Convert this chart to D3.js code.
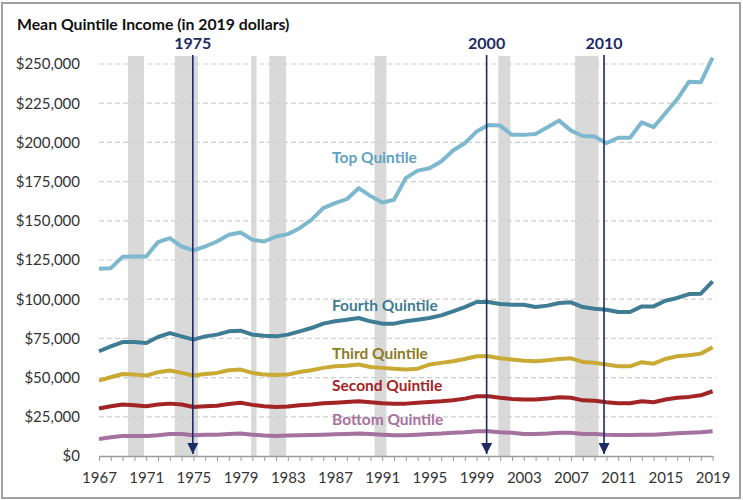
<!DOCTYPE html>
<html>
<head>
<meta charset="utf-8">
<script src="https://cdn.jsdelivr.net/npm/d3@7"></script>
<style>
  body { margin: 0; background: #fff; }
  svg { font-family: Lato, "Open Sans", sans-serif; }
</style>
</head>
<body>
<svg id="chart" width="743" height="500"></svg>
<script>
const W = 743, H = 500;

var years = d3.range(1967, 2020);

var topQ = [119400, 119800, 127000, 127300, 127200, 136400, 139000, 133600, 131100, 133600,
  136800, 141100, 142500, 137900, 136800, 140000, 141500, 145300, 150600, 158100,
  161300, 163800, 170800, 165900, 161600, 163400, 177200, 182000, 183500, 187800,
  194800, 199500, 206900, 211100, 210700, 204800, 204800, 205400, 209700, 213900,
  207500, 204100, 203700, 199500, 203000, 203000, 212800, 209700, 218600, 227500,
  238700, 238300, 254000];
var fourthQ = [66800, 69900, 72700, 72700, 72100, 75900, 78400, 76300, 74200, 76300,
  77400, 79500, 79900, 77400, 76700, 76300, 77400, 79500, 81600, 84400,
  85900, 86900, 88000, 85900, 84400, 84400, 85900, 86900, 88000, 89700,
  92200, 95000, 98200, 98200, 96900, 96500, 96500, 95000, 95900, 97600,
  98000, 95000, 93900, 93300, 91800, 91800, 95400, 95400, 99000, 100800,
  103300, 103500, 111300];
var thirdQ = [48100, 50200, 52300, 51900, 51300, 53400, 54500, 53000, 51300, 52300,
  53000, 54700, 55100, 53000, 51900, 51700, 51900, 53600, 54700, 56200,
  57200, 57600, 58300, 56800, 56200, 55700, 55100, 55700, 58300, 59400,
  60400, 61900, 63600, 63600, 62300, 61500, 60800, 60400, 61000, 61900,
  62300, 60000, 59400, 58300, 57200, 57200, 59800, 58900, 61900, 63600,
  64200, 65300, 69300];
var secondQ = [30300, 31700, 32800, 32400, 31700, 32800, 33400, 32800, 31300, 31700,
  32100, 33100, 33900, 32600, 31700, 31300, 31500, 32400, 32800, 33600,
  34000, 34500, 34900, 34300, 33600, 33400, 33400, 33900, 34500, 34900,
  35500, 36600, 38100, 38100, 37100, 36400, 36000, 36000, 36600, 37500,
  37100, 35500, 35300, 34300, 33600, 33600, 34900, 34300, 36000, 37100,
  37700, 38700, 41300];
var bottomQ = [10900, 12000, 12800, 12800, 12700, 13200, 14100, 14100, 13200, 13600,
  13600, 14100, 14300, 13600, 13000, 12800, 13000, 13200, 13400, 13600,
  13900, 14100, 14300, 14100, 13600, 13200, 13200, 13600, 14100, 14300,
  14800, 15200, 15800, 15800, 15200, 14800, 14100, 14100, 14300, 14800,
  14800, 14100, 14100, 13600, 13400, 13400, 13600, 13600, 14100, 14500,
  14800, 15200, 15800];

var seriesNames = ["Top Quintile", "Fourth Quintile", "Third Quintile", "Second Quintile", "Bottom Quintile"];
var seriesValues = [topQ, fourthQ, thirdQ, secondQ, bottomQ];
var lineColors = ["#7db8cf", "#3e7d94", "#c9aa35", "#a32424", "#a5719f"];
var labelColors = ["#5fa2c2", "#3e7d94", "#8c7b22", "#a32424", "#a8709f"];
// label anchor (year, value) for each series name, baseline left
var labelPos = [[1986.75, 187100], [1986.75, 92700], [1986.75, 61700], [1986.75, 41600], [1986.75, 19800]];

// recession bands, as fractional years
var recessions = [[1969.46, 1970.82], [1973.42, 1975.38], [1979.9, 1980.35], [1981.43, 1982.85],
  [1990.35, 1991.36], [2000.84, 2001.86], [2007.35, 2009.33]];

var markers = [{label: "1975", year: 1974.95}, {label: "2000", year: 1999.85}, {label: "2010", year: 2009.8}];

var yTicks = d3.range(0, 250001, 25000);

const x = d3.scaleLinear().domain([1967, 2019]).range([99, 712.6]);
const y = d3.scaleLinear().domain([0, 250000]).range([456, 64]);

var svg = d3.select("#chart");

svg.append("rect")
  .attr("x", 2).attr("y", 3).attr("width", 738).attr("height", 495)
  .attr("fill", "#fff").attr("stroke", "#a0a0a0").attr("stroke-width", 2);

svg.append("text")
  .attr("x", 17).attr("y", 30)
  .attr("font-size", 15.8).attr("font-weight", "bold").attr("fill", "#111")
  .text("Mean Quintile Income (in 2019 dollars)");

// recession shading
svg.selectAll("rect.rec")
  .data(recessions)
  .enter().append("rect")
  .attr("class", "rec")
  .attr("x", d => x(d[0]))
  .attr("width", d => x(d[1]) - x(d[0]))
  .attr("y", 56)
  .attr("height", y(0) - 56)
  .attr("fill", "#d9d9d9");

// gridlines
svg.selectAll("line.grid")
  .data(yTicks.filter(d => d > 0))
  .enter().append("line")
  .attr("class", "grid")
  .attr("x1", 99).attr("x2", 716)
  .attr("y1", d => y(d)).attr("y2", d => y(d))
  .attr("stroke", "#cfcfcf").attr("stroke-width", 1.2)
  .attr("stroke-dasharray", "5,3");

// y axis
var yAxis = svg.append("g")
  .attr("transform", "translate(83,0)")
  .call(d3.axisLeft(y).tickValues(yTicks).tickSize(0).tickFormat(d3.format("$,")));
yAxis.select(".domain").remove();
yAxis.selectAll("text").attr("font-size", 15).attr("fill", "#333").attr("font-family", "Lato");

// x axis
var xAxis = svg.append("g")
  .attr("transform", `translate(0,${y(0)})`)
  .call(d3.axisBottom(x).tickValues(years).tickSize(5).tickSizeOuter(0)
    .tickFormat(d => (d - 1967) % 4 === 0 ? d : ""));
xAxis.select(".domain").attr("stroke", "#9a9a9a").attr("stroke-width", 1.3);
xAxis.selectAll(".tick line").attr("stroke", "#9a9a9a");
xAxis.selectAll("text").attr("font-size", 15).attr("fill", "#333").attr("font-family", "Lato").attr("dy", "1.25em");

// lines
var line = d3.line()
  .x((d, i) => x(years[i]))
  .y(d => y(d));

svg.selectAll("path.series")
  .data(seriesValues)
  .enter().append("path")
  .attr("class", "series")
  .attr("d", line)
  .attr("fill", "none")
  .attr("stroke", (d, i) => lineColors[i])
  .attr("stroke-width", 4)
  .attr("stroke-linejoin", "round");

svg.selectAll("text.slabel")
  .data(seriesNames)
  .enter().append("text")
  .attr("class", "slabel")
  .attr("x", (d, i) => x(labelPos[i][0]))
  .attr("y", (d, i) => y(labelPos[i][1]))
  .attr("font-size", 15.5).attr("font-weight", "bold")
  .attr("fill", (d, i) => labelColors[i])
  .text(d => d);

// arrows
svg.append("defs").append("marker")
  .attr("id", "arr")
  .attr("viewBox", "0 0 10 10")
  .attr("refX", 10).attr("refY", 5)
  .attr("markerWidth", 7).attr("markerHeight", 7)
  .attr("markerUnits", "strokeWidth")
  .attr("orient", "auto")
  .append("path").attr("d", "M0,0L10,5L0,10Z").attr("fill", "#1c2a66");

var mk = svg.selectAll("g.mk")
  .data(markers)
  .enter().append("g").attr("class", "mk");

mk.append("line")
  .attr("x1", d => x(d.year)).attr("x2", d => x(d.year))
  .attr("y1", 55).attr("y2", 454)
  .attr("stroke", "#1c2a66").attr("stroke-width", 1.6)
  .attr("marker-end", "url(#arr)");

mk.append("text")
  .attr("x", d => x(d.year)).attr("y", 49)
  .attr("text-anchor", "middle")
  .attr("font-size", 16).attr("font-weight", "bold").attr("fill", "#1c2a66")
  .text(d => d.label);
</script>
</body>
</html>
